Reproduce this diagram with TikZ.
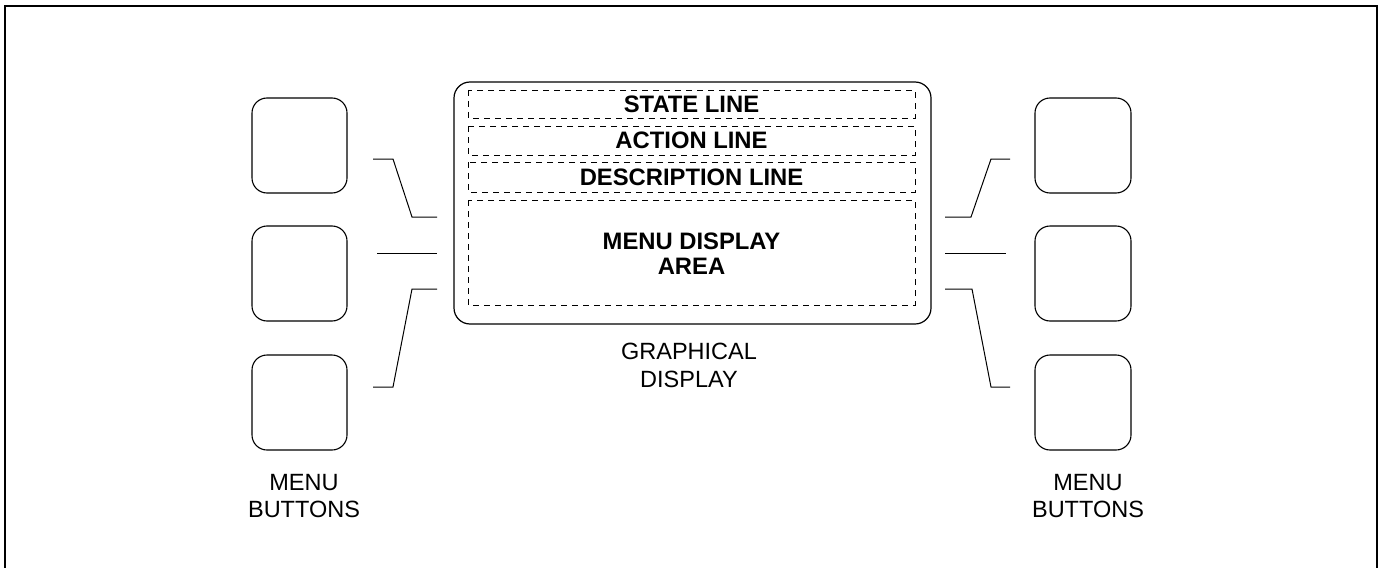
\documentclass[tikz,border=0pt]{standalone}
\usepackage{fontspec}
\setmainfont{Liberation Sans}
\begin{document}
\begin{tikzpicture}[x=1pt,y=-1pt,
  btn/.style={draw,line width=1.1pt,rounded corners=15pt},
  dispbox/.style={draw,line width=1.2pt,rounded corners=16pt},
  dashbox/.style={draw,line width=0.8pt,dash pattern=on 6pt off 5pt},
  lead/.style={draw,line width=1pt},
  boldlbl/.style={font=\fontsize{23.8}{25}\selectfont\bfseries,inner sep=0pt,align=center},
  reglbl/.style={font=\fontsize{23.5}{27.5}\selectfont,inner sep=0pt,align=center}]
\useasboundingbox (0,0) rectangle (1380,567);
\begin{scope}
\clip (0,0) rectangle (1380,567);
\draw[line width=2.5pt] (5,600) -- (5,6) -- (1377,6) -- (1377,600);
\end{scope}
% buttons
\path[btn] (252,98) rectangle (347,193) node[midway] (bl1) {};
\path[btn] (252,226) rectangle (347,321) node[midway] (bl2) {};
\path[btn] (252,355) rectangle (347,450) node[midway] (bl3) {};
\path[btn] (1035,98) rectangle (1131,193) node[midway] (br1) {};
\path[btn] (1035,226) rectangle (1131,321) node[midway] (br2) {};
\path[btn] (1035,355) rectangle (1131,450) node[midway] (br3) {};
% display
\path[dispbox] (454,82) rectangle (931,324) node[midway] (disp) {};
\path[dashbox] (468,90) rectangle (915,118) node[midway,boldlbl] (state) {STATE LINE};
\path[dashbox] (468,126) rectangle (915,155) node[midway,boldlbl] (action) {ACTION LINE};
\path[dashbox] (468,162) rectangle (915,192) node[midway,boldlbl] (descr) {DESCRIPTION LINE};
\path[dashbox] (468,200) rectangle (915,305) node[pos=0.5,boldlbl,yshift=-1.5pt] (menu) {MENU DISPLAY\\AREA};
% leaders left
\coordinate (la1) at (373,159); \coordinate (la2) at (393,159); \coordinate (la3) at (412,217); \coordinate (la4) at (437,217);
\draw[lead] (la1) -- (la2) -- (la3) -- (la4);
\coordinate (lb1) at (377,253); \coordinate (lb2) at (437,253);
\draw[lead] (lb1) -- (lb2);
\coordinate (lc1) at (437,289); \coordinate (lc2) at (412,289); \coordinate (lc3) at (393,387); \coordinate (lc4) at (373,387);
\draw[lead] (lc1) -- (lc2) -- (lc3) -- (lc4);
% leaders right
\coordinate (ra1) at (945,217); \coordinate (ra2) at (971,217); \coordinate (ra3) at (991,159); \coordinate (ra4) at (1010,159);
\draw[lead] (ra1) -- (ra2) -- (ra3) -- (ra4);
\coordinate (rb1) at (945,253); \coordinate (rb2) at (1006,253);
\draw[lead] (rb1) -- (rb2);
\coordinate (rc1) at (945,289); \coordinate (rc2) at (972,289); \coordinate (rc3) at (991,387); \coordinate (rc4) at (1010,387);
\draw[lead] (rc1) -- (rc2) -- (rc3) -- (rc4);
% labels
\node[reglbl] (gd) at (689,365.5) {GRAPHICAL\\DISPLAY};
\node[reglbl] (mbl) at (304,496) {MENU\\BUTTONS};
\node[reglbl] (mbr) at (1088,496) {MENU\\BUTTONS};
\end{tikzpicture}
\end{document}
